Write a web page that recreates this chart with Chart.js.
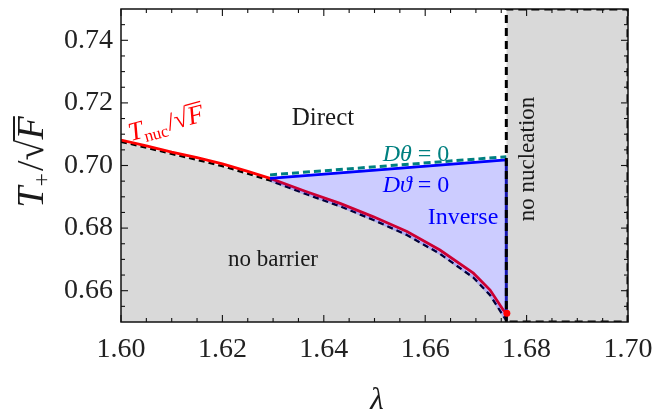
<!DOCTYPE html>
<html><head><meta charset="utf-8">
<style>html,body{margin:0;padding:0;background:#fff}canvas{display:block}</style>
<script src="https://cdn.jsdelivr.net/npm/chart.js@4.4.1/dist/chart.umd.min.js"></script>
</head><body>
<canvas id="c" width="655" height="413"></canvas>
<script>
// ---- data ----
const xMajorTicks = [1.60, 1.62, 1.64, 1.66, 1.68, 1.70];
const xMinorTicks = [1.605,1.61,1.615,1.625,1.63,1.635,1.645,1.65,1.655,1.665,1.67,1.675,1.685,1.69,1.695];
const yMajorTicks = [0.66, 0.68, 0.70, 0.72, 0.74];
const yMinorTicks = [0.655,0.665,0.67,0.675,0.685,0.69,0.695,0.705,0.71,0.715,0.725,0.73,0.735,0.745];

// T_nuc / sqrt(F) curve (red)
const lambdaNuc = [1.600,1.605,1.610,1.615,1.620,1.625,1.6294,1.6366,1.6432,1.6498,1.6564,1.6629,1.6695,1.6728,1.6754,1.6761];
const tNuc      = [0.7081,0.7063,0.7043,0.7025,0.7005,0.6981,0.6959,0.6916,0.6879,0.6836,0.6789,0.6730,0.6656,0.6602,0.6538,0.6528];
// no-barrier boundary (black dashed)
const lambdaBarrier = [1.600,1.605,1.610,1.615,1.620,1.625,1.6294,1.6366,1.6432,1.6498,1.6564,1.6629,1.6695,1.6728,1.6750,1.6760];
const tBarrier      = [0.7076,0.7057,0.7037,0.7018,0.6998,0.6974,0.6952,0.6908,0.6870,0.6826,0.6778,0.6718,0.6642,0.6586,0.6530,0.6505];
// D vartheta = 0 (blue) and D theta = 0 (teal dashed)
const lambdaDvartheta = [1.6294, 1.6760];
const tDvartheta      = [0.6959, 0.7018];
const lambdaDtheta    = [1.6294, 1.6760];
const tDtheta         = [0.6970, 0.7028];
// no nucleation edge
const lambdaNoNucleation = [1.676, 1.700];
const yRange = [0.65, 0.75];
const xRange = [1.60, 1.70];

const pts = (xs, ys) => xs.map((x, i) => ({x: x, y: ys[i]}));
const SERIF = '"Liberation Serif", "DejaVu Serif", serif';

// inverse region polygon: blue line, then down the edge, then back along the boundary
const barrierPts = pts(lambdaBarrier, tBarrier);
const inversePoly = pts(lambdaDvartheta, tDvartheta)
  .concat(barrierPts.filter(p => p.x >= lambdaDvartheta[0]).reverse());

const noNucBox = [
  {x: lambdaNoNucleation[0], y: yRange[0]}, {x: lambdaNoNucleation[0], y: yRange[1]},
  {x: lambdaNoNucleation[1], y: yRange[1]}, {x: lambdaNoNucleation[1], y: yRange[0]},
  {x: lambdaNoNucleation[0], y: yRange[0]}
];

function drawRich(ctx, parts, x, y, angle, color) {
  ctx.save();
  ctx.translate(x, y); ctx.rotate(angle);
  ctx.fillStyle = color; ctx.strokeStyle = color;
  ctx.textBaseline = 'alphabetic'; ctx.textAlign = 'left';
  let total = 0;
  const ws = parts.map(p => { ctx.font = p.font; const w = ctx.measureText(p.t).width + (p.gap || 0); total += w; return w; });
  let cx = -total / 2, over = null;
  parts.forEach((p, i) => {
    ctx.font = p.font;
    ctx.fillText(p.t, cx, p.dy || 0);
    if (p.radical) {
      const m = ctx.measureText(p.t);
      over = {x: cx + m.actualBoundingBoxRight - 1, y: -m.actualBoundingBoxAscent};
    }
    if (p.over && over) {
      ctx.lineWidth = p.lw || 1.5;
      ctx.beginPath();
      ctx.moveTo(over.x, over.y + ctx.lineWidth / 2);
      ctx.lineTo(cx + ws[i], over.y + ctx.lineWidth / 2);
      ctx.stroke();
    }
    cx += ws[i];
  });
  ctx.restore();
}

const framePlugin = {
  id: 'frame',
  afterDatasetsDraw(chart) {
    const {ctx, chartArea: a} = chart;
    const xs = chart.scales.x, ys = chart.scales.y;
    ctx.save();
    ctx.strokeStyle = '#111'; ctx.lineWidth = 1.5;
    ctx.strokeRect(a.left, a.top, a.right - a.left, a.bottom - a.top);
    ctx.lineWidth = 1.1;
    const tick = (px, py, dx, dy) => { ctx.beginPath(); ctx.moveTo(px, py); ctx.lineTo(px + dx, py + dy); ctx.stroke(); };
    xMajorTicks.forEach(v => { const p = xs.getPixelForValue(v); tick(p, a.bottom, 0, -7); tick(p, a.top, 0, 7); });
    xMinorTicks.forEach(v => { const p = xs.getPixelForValue(v); tick(p, a.bottom, 0, -4); tick(p, a.top, 0, 4); });
    yMajorTicks.forEach(v => { const p = ys.getPixelForValue(v); tick(a.left, p, 7, 0); tick(a.right, p, -7, 0); });
    yMinorTicks.forEach(v => { const p = ys.getPixelForValue(v); tick(a.left, p, 4, 0); tick(a.right, p, -4, 0); });

    const deg = Math.PI / 180;
    // annotations
    drawRich(ctx, [{t: 'Direct', font: `25px ${SERIF}`}], 323, 125, 0, '#1a1a1a');
    drawRich(ctx, [{t: 'no barrier', font: `23px ${SERIF}`}], 273, 266, 0, '#1a1a1a');
    drawRich(ctx, [{t: 'Inverse', font: `24px ${SERIF}`}], 463, 224, 0, 'rgb(0,0,255)');
    drawRich(ctx, [{t: 'D', font: `italic 24px ${SERIF}`}, {t: 'θ', font: `italic 24px ${SERIF}`}, {t: ' = 0', font: `24px ${SERIF}`}], 416, 161, 0, 'rgb(0,128,128)');
    drawRich(ctx, [{t: 'D', font: `italic 24px ${SERIF}`}, {t: 'ϑ', font: `italic 24px ${SERIF}`}, {t: ' = 0', font: `24px ${SERIF}`}], 416, 192, 0, 'rgb(0,0,255)');
    drawRich(ctx, [{t: 'no nucleation', font: `23px ${SERIF}`}], 534, 159, -90 * deg, '#1a1a1a');
    drawRich(ctx, [
      {t: 'T', font: `italic 26px ${SERIF}`},
      {t: 'nuc', font: `17px ${SERIF}`, dy: 5, gap: 1},
      {t: '/', font: `26px ${SERIF}`},
      {t: '√', font: `26px ${SERIF}`, radical: true},
      {t: 'F', font: `italic 26px ${SERIF}`, over: true, lw: 1.4}
    ], 168, 131, -15 * deg, 'rgb(255,0,0)');
    // axis titles
    drawRich(ctx, [
      {t: 'T', font: `italic 38px ${SERIF}`},
      {t: '+', font: `24px ${SERIF}`, dy: 6, gap: 2},
      {t: '/', font: `38px ${SERIF}`},
      {t: '√', font: `38px ${SERIF}`, radical: true},
      {t: 'F', font: `italic 38px ${SERIF}`, over: true, lw: 2}
    ], 43, 162, -90 * deg, '#1a1a1a');
    drawRich(ctx, [{t: 'λ', font: `italic 31px ${SERIF}`}], 377, 409, 0, '#1a1a1a');
    ctx.restore();
  }
};

const lineBase = {pointRadius: 0, tension: 0, fill: false};

new Chart(document.getElementById('c'), {
  type: 'line',
  data: {
    datasets: [
      // gray region under the boundary (no barrier)
      Object.assign({}, lineBase, {data: barrierPts, fill: 'start', backgroundColor: 'rgb(217,217,217)', borderWidth: 0, order: 20}),
      // gray region of no nucleation
      Object.assign({}, lineBase, {data: pts(lambdaNoNucleation, [yRange[1], yRange[1]]), fill: 'start', backgroundColor: 'rgb(217,217,217)', borderWidth: 0, order: 19}),
      // black dashed boundary
      Object.assign({}, lineBase, {data: barrierPts, borderColor: '#000', borderWidth: 2.3, borderDash: [6, 4], order: 12}),
      // red T_nuc curve
      Object.assign({}, lineBase, {data: pts(lambdaNuc, tNuc), borderColor: 'rgb(255,0,0)', borderWidth: 2.8, order: 11}),
      // dark edge under the vertical dashed line
      Object.assign({}, lineBase, {data: [{x: lambdaNoNucleation[0], y: tBarrier[tBarrier.length - 1]}, {x: lambdaNoNucleation[0], y: tDvartheta[1]}], borderColor: 'rgb(30,30,150)', borderWidth: 3, order: 10}),
      // inverse region (semi-transparent blue)
      Object.assign({}, lineBase, {data: inversePoly, fill: 'shape', backgroundColor: 'rgba(0,0,255,0.2)', borderColor: 'rgba(0,0,255,0.18)', borderWidth: 2.5, order: 9}),
      // D theta = 0 teal dashed
      Object.assign({}, lineBase, {data: pts(lambdaDtheta, tDtheta), borderColor: 'rgb(0,128,128)', borderWidth: 3, borderDash: [7, 4], order: 5}),
      // D vartheta = 0 blue
      Object.assign({}, lineBase, {data: pts(lambdaDvartheta, tDvartheta), borderColor: 'rgb(0,0,255)', borderWidth: 2.8, order: 4}),
      // no nucleation box dashed
      Object.assign({}, lineBase, {data: noNucBox, borderColor: '#000', borderWidth: 3, borderDash: [8, 5], order: 3}),
      // red end point
      Object.assign({}, lineBase, {data: [{x: lambdaNuc[lambdaNuc.length - 1], y: tNuc[tNuc.length - 1]}], showLine: false, pointRadius: 3.5, pointBackgroundColor: 'rgb(255,0,0)', pointBorderWidth: 0, order: 1})
    ]
  },
  options: {
    responsive: false,
    animation: false,
    devicePixelRatio: 1,
    layout: {padding: {top: 9, right: 27, left: 0, bottom: 0}},
    plugins: {legend: {display: false}, tooltip: {enabled: false}},
    scales: {
      x: {
        type: 'linear', min: xRange[0], max: xRange[1],
        grid: {display: false, drawTicks: false}, border: {display: false},
        afterBuildTicks: s => { s.ticks = xMajorTicks.map(v => ({value: v})); },
        afterFit: s => { s.height = 91; s.paddingLeft = 0; s.paddingRight = 0; s.paddingTop = 0; s.paddingBottom = 0; },
        ticks: {autoSkip: false, maxRotation: 0, padding: 11, color: '#222',
                font: {family: SERIF, size: 28}, callback: v => Number(v).toFixed(2)}
      },
      y: {
        type: 'linear', min: yRange[0], max: yRange[1],
        grid: {display: false, drawTicks: false}, border: {display: false},
        afterBuildTicks: s => { s.ticks = yMajorTicks.map(v => ({value: v})); },
        afterFit: s => { s.width = 121; s.paddingLeft = 0; s.paddingRight = 0; s.paddingTop = 0; s.paddingBottom = 0; },
        ticks: {autoSkip: false, padding: 8, color: '#222',
                font: {family: SERIF, size: 28}, callback: v => Number(v).toFixed(2)}
      }
    }
  },
  plugins: [framePlugin]
});
</script>
</body></html>
